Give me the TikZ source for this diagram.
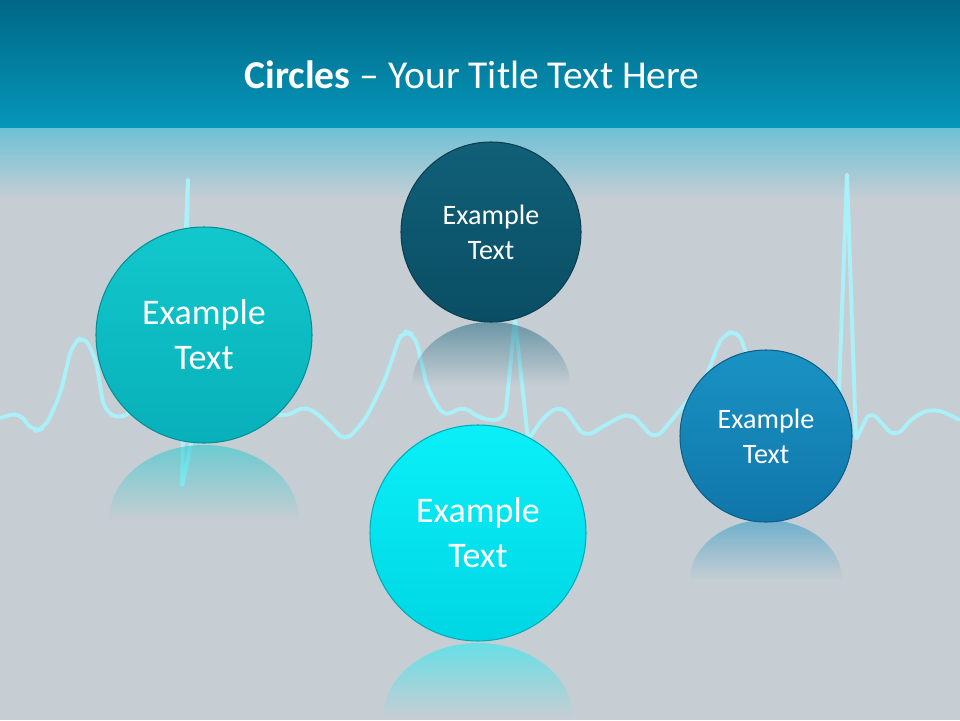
\documentclass[tikz,border=0pt]{standalone}
\usepackage{fontspec}
\setmainfont{Carlito}
\usetikzlibrary{fadings,shadings}
\definecolor{bg}{RGB}{198,206,212}
\definecolor{hdtop}{RGB}{0,104,134}
\definecolor{hdbot}{RGB}{6,150,186}
\definecolor{ecg}{RGB}{170,240,248}
\definecolor{cA}{RGB}{18,200,204}
\definecolor{cAd}{RGB}{8,176,186}
\definecolor{cB}{RGB}{16,96,120}
\definecolor{cBd}{RGB}{10,78,100}
\definecolor{cC}{RGB}{10,240,248}
\definecolor{cCd}{RGB}{0,214,228}
\definecolor{cD}{RGB}{26,146,196}
\definecolor{cDd}{RGB}{16,118,170}
\tikzset{
 bubble/.style args={#1/#2}{circle,inner sep=0pt,text=white,align=center,
   top color=#1,bottom color=#2,draw=#2!80!black,line width=0.6pt},
 refl/.style={opacity=0.5,path fading=south},
 bigtxt/.style={font=\fontsize{20.5}{25.5}\selectfont},
 smalltxt/.style={font=\fontsize{16}{20}\selectfont},
}
\begin{document}
\begin{tikzpicture}[x=0.02cm,y=-0.02cm]
\useasboundingbox (0,0) rectangle (960,720);
\fill[bg] (0,0) rectangle (960,720);
\shade[top color=hdbot!60!white,bottom color=bg] (0,125) rectangle (960,200);
\shade[top color=hdtop,bottom color=hdbot] (0,0) rectangle (960,127);
\node[text=white,font=\fontsize{22.5}{26}\selectfont] (title) at (472,75) {\textbf{Circles} -- Your Title Text Here};
% ECG line
\draw[ecg,line width=2.2pt,line join=round,rounded corners=6pt]
 (0,418) -- (20,412) -- (32,432) -- (45,428) -- (60,395) -- (72,345) -- (84,335) -- (96,360) -- (104,410)
 -- (120,420) -- (140,405) -- (160,425) -- (178,418) [rounded corners=1pt] -- (188,178) -- (182,487) [rounded corners=6pt] -- (196,420)
 -- (215,410) -- (235,422) -- (260,408) -- (285,418) -- (305,405) -- (325,420) -- (345,442) -- (365,420)
 -- (385,380) -- (402,330) -- (415,335) -- (428,390) -- (445,418) -- (462,405) -- (482,420)
 -- (505,420) [rounded corners=1pt] -- (515,318) -- (528,440) [rounded corners=6pt] -- (545,415) -- (562,405) -- (585,438)
 -- (605,425) -- (630,412) -- (655,440) -- (680,410) -- (705,380) -- (722,335) -- (738,330)
 -- (752,370) -- (765,410) -- (790,418) -- (815,412) -- (838,418) [rounded corners=1pt] -- (847,173) -- (856,440) [rounded corners=6pt]
 -- (870,410) -- (895,438) -- (915,415) -- (935,408) -- (960,420);
% reflections
\fill[cA,refl] (109,520) arc[start angle=180,end angle=360,x radius=95,y radius=75];
\fill[cB,refl] (412,385) arc[start angle=180,end angle=360,x radius=79,y radius=63];
\fill[cC,refl] (383,718) arc[start angle=180,end angle=360,x radius=95,y radius=75];
\fill[cD,refl] (690,580) arc[start angle=180,end angle=360,x radius=76,y radius=60];
% circles
\node[bubble=cA/cAd,minimum size=216*0.02cm,bigtxt] (c1) at (204,335) {Example\\Text};
\node[bubble=cB/cBd,minimum size=180*0.02cm,smalltxt] (c2) at (491,232) {Example\\Text};
\node[bubble=cC/cCd,minimum size=216*0.02cm,bigtxt] (c3) at (478,533) {Example\\Text};
\node[bubble=cD/cDd,minimum size=172*0.02cm,smalltxt] (c4) at (766,436) {Example\\Text};
\end{tikzpicture}
\end{document}
